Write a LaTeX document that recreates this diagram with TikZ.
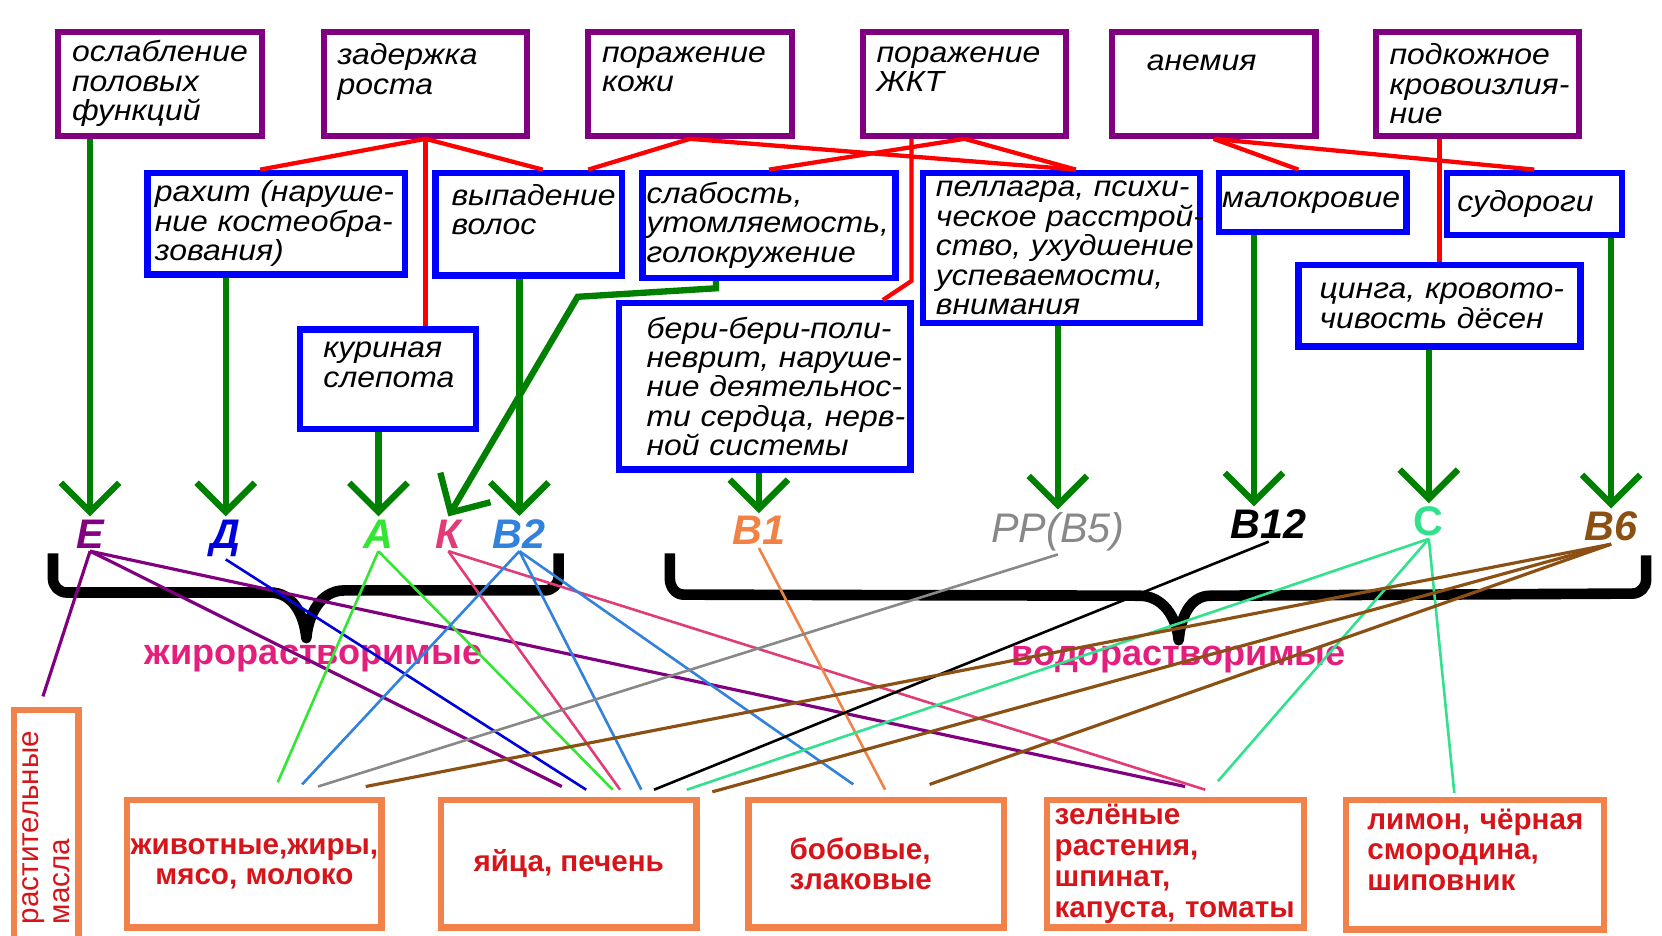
\documentclass[tikz,border=0pt]{standalone}
\usepackage{fontspec}
\setmainfont{Liberation Sans}
\newfontfamily\boxfont[FakeStretch=1.1]{Liberation Sans}
\usetikzlibrary{arrows.meta}

\definecolor{symcol}{RGB}{128,0,128}
\definecolor{diseasecol}{RGB}{0,0,255}
\definecolor{foodcol}{RGB}{242,130,75}
\definecolor{foodtext}{RGB}{215,20,25}
\definecolor{linkred}{RGB}{255,0,0}
\definecolor{arrowgreen}{RGB}{0,128,0}
\definecolor{groupcol}{RGB}{228,30,125}
\definecolor{colE}{RGB}{128,0,128}
\definecolor{colD}{RGB}{0,0,220}
\definecolor{colA}{RGB}{50,230,50}
\definecolor{colK}{RGB}{225,60,120}
\definecolor{colBtwo}{RGB}{50,130,220}
\definecolor{colBone}{RGB}{240,130,70}
\definecolor{colPP}{RGB}{136,136,136}
\definecolor{colBtwelve}{RGB}{0,0,0}
\definecolor{colC}{RGB}{50,225,140}
\definecolor{colBsix}{RGB}{139,80,20}

\tikzset{
  symptom/.style={draw=symcol, line width=3.4pt, inner sep=0pt, align=left,
    minimum width=3.84cm, minimum height=1.96cm, text width=3.32cm,
    font=\boxfont\itshape\fontsize{15.6}{15.8}\selectfont},
  disease/.style={draw=diseasecol, line width=3.4pt, inner sep=0pt, align=left,
    font=\boxfont\itshape\fontsize{15.6}{15.8}\selectfont},
  food/.style={draw=foodcol, line width=3.4pt, inner sep=0pt, text=foodtext,
    font=\bfseries\fontsize{15.9}{16.5}\selectfont},
  vit/.style={inner sep=1.5pt, anchor=base,
    font=\bfseries\itshape\fontsize{22.2}{24}\selectfont},
  group/.style={text=groupcol, font=\bfseries\fontsize{19.4}{21}\selectfont},
  redlink/.style={draw=linkred, line width=2.3pt},
  greenarrow/.style={draw=arrowgreen, line width=3.4pt,
    -{Straight Barb[length=0.55cm,width=1.1cm]}},
  bracket/.style={draw=black, line width=5.7pt, line join=round},
  source/.style={draw=#1, line width=1.4pt}
}

\begin{document}
\begin{tikzpicture}[x=0.02cm,y=-0.02cm]
    \useasboundingbox (0,0) rectangle (1568,883);

    \node[symptom] (b1) at (151,79) {ослабление\\половых\\функций};
    \node[symptom] (b2) at (401.5,79) {задержка\\роста\\~};
    \node[symptom] (b3) at (651,79) {поражение\\кожи\\~};
    \node[symptom] (b4) at (910,79) {поражение\\ЖКТ\\~};
    \node[symptom] (b5) at (1145,79) {\hspace*{0.4cm}\raisebox{-0.1cm}{анемия}\vphantom{б}\\~\\~};
    \node[symptom] (b6) at (1394,79) {подкожное\\\mbox{кровоизлия-}\\ние};

    \node[disease, minimum width=4.86cm, minimum height=1.92cm, text width=4.58cm] (c1) at (260.5,211) {\mbox{рахит (наруше-}\\\mbox{ние костеобра-}\\зования)};
    \node[disease, minimum width=3.52cm, minimum height=1.94cm, text width=2.92cm] (c2) at (499,211.5) {выпадение\\волос\\~};
    \node[disease, minimum width=4.78cm, minimum height=1.98cm, text width=4.62cm] (c3) at (725.5,212.5) {слабость,\\утомляемость,\\голокружение};
    \node[disease, minimum width=5.22cm, minimum height=2.84cm, text width=4.74cm] (c4) at (1001.5,234) {\mbox{пеллагра, психи-}\\\mbox{ческое расстрой-}\\\mbox{ство, ухудшение}\\успеваемости,\\внимания};
    \node[disease, minimum width=3.54cm, minimum height=1.12cm, text width=3.42cm] (c5) at (1238.5,191) {малокровие};
    \node[disease, minimum width=3.3cm, minimum height=1.18cm, text width=2.9cm] (c6) at (1447.5,192.5) {судороги};
    \node[disease, minimum width=3.32cm, minimum height=1.88cm, text width=2.44cm] (c7) at (366,358) {куриная\\слепота\\~};
    \node[disease, minimum width=5.5cm, minimum height=3.14cm, text width=4.46cm] (c8) at (721.5,364.5) {\mbox{бери-бери-поли-}\\\mbox{неврит, наруше-}\\\mbox{ние деятельнос-}\\\mbox{ти сердца, нерв-}\\\mbox{ной системы}};
    \node[disease, minimum width=5.32cm, minimum height=1.54cm, text width=4.52cm] (c9) at (1358,288.5) {\mbox{цинга, кровото-}\\\mbox{чивость дёсен}};

    \node[vit, text=colE] (e) at (85,517) {Е};
    \node[vit, text=colD] (d) at (213,517) {Д};
    \node[vit, text=colA] (a) at (357,517) {А};
    \node[vit, text=colK] (k) at (423,517) {К};
    \node[vit, text=colBtwo] (btwo) at (490,517) {В2};
    \node[vit, text=colBone] (bone) at (716,514) {В1};
    \node[vit, text=colPP, font=\itshape\fontsize{22.2}{24}\selectfont] (pp) at (998,512) {РР(В5)};
    \node[vit, text=colBtwelve] (btwelve) at (1197,508) {В12};
    \node[vit, text=colC, font=\bfseries\fontsize{22.2}{24}\selectfont] (c) at (1348,505) {С};
    \node[vit, text=colBsix] (bsix) at (1520,510) {В6};

    \node[food, rotate=90, align=left, minimum width=4.46cm, minimum height=1.22cm, text width=3.62cm, font=\fontsize{15.9}{16.5}\selectfont] (d1) at (43.5,781.5) {растительные\\масла};
    \node[food, align=center, minimum width=4.8cm, minimum height=2.4cm] (d2) at (240,815) {животные,жиры,\\\mbox{мясо, молоко}};
    \node[food, align=center, minimum width=4.82cm, minimum height=2.4cm] (d3) at (536.5,815) {\mbox{яйца, печень}};
    \node[food, align=left, minimum width=4.82cm, minimum height=2.4cm, text width=3.26cm] (d4) at (826.5,815) {бобовые,\\злаковые};
    \node[food, align=left, minimum width=4.84cm, minimum height=2.4cm, text width=4.56cm] (d5) at (1109,815) {зелёные\\растения,\\шпинат,\\\mbox{капуста, томаты}};
    \node[food, align=left, minimum width=4.86cm, minimum height=2.44cm, text width=4.06cm] (d6) at (1391.5,816) {\mbox{лимон, чёрная}\\смородина,\\шиповник\\~};

    \node[group] (fat) at (296,621) {жирорастворимые};
    \node[group] (water) at (1112,622) {водорастворимые};
    \coordinate (kbend) at (545,280);
    \coordinate (btip) at ([xshift=-0.28cm]btwelve.north);

    \draw[bracket] (50,522) -- (50,546) to[out=-90,in=180] (63,559) -- (255,559) to[out=0,in=95] (289,602) to[out=85,in=180] (325,557) -- (514,557) to[out=0,in=-90] (527,544) -- (527,522);
    \draw[bracket] (632,522) -- (632,546) to[out=-90,in=180] (645,561) -- (1075,562) to[out=0,in=95] (1112,604) to[out=85,in=180] (1142,562) -- (1540,560) to[out=0,in=-90] (1553,547) -- (1553,524);

    \path[redlink] (b2.south) edge ([xshift=-0.3cm]c1.north);
    \path[redlink] (b2.south) edge ([xshift=0.26cm]c2.north);
    \path[redlink] (b2.south) edge (b2.south |- c7.north);
    \path[redlink] (b3.south) edge ([xshift=-0.7cm]c2.north east);
    \path[redlink] (b3.south) edge ([xshift=0.27cm]c4.north);
    \path[redlink] (b4.south) edge (c3.north);
    \path[redlink] (b4.south) edge ([xshift=0.27cm]c4.north);
    \draw[redlink] ([xshift=-1cm]b4.south) -- ([xshift=-1cm]b4.south |- c3.south) -- ([xshift=-0.58cm]c8.north east);
    \path[redlink] (b5.south) edge ([xshift=-0.27cm]c5.north);
    \path[redlink] (b5.south) edge (c6.north);
    \path[redlink] (c9.north |- b6.south) edge (c9.north);

    \draw[greenarrow] (e |- b1.south) -- (e.north);
    \draw[greenarrow] (d |- c1.south) -- (d.north);
    \draw[greenarrow] (a |- c7.south) -- (a.north);
    \draw[greenarrow] (btwo |- c2.south) -- (btwo.north);
    \draw[greenarrow] (bone |- c8.south) -- (bone.north);
    \draw[greenarrow] (pp |- c4.south) -- (pp.north);
    \draw[greenarrow] (btip |- c5.south) -- (btip);
    \draw[greenarrow] (c |- c9.south) -- (c.north);
    \draw[greenarrow] (bsix |- c6.south) -- (bsix.north);
    \draw[greenarrow] ([xshift=-1cm]c3.south) -- ++(0,7) -- (kbend) -- (k.north);

    \path[source=colE, line width=1.7pt] (e.south) edge ([shift={(-3,-10)}]d1.east)
        (e.south) edge ([shift={(117,-10)}]d3.north west)
        (e.south) edge ([shift={(133,-10)}]d5.north west);
    \path[source=colD] (d.south) edge ([shift={(140,-7)}]d3.north west);
    \path[source=colA] (a.south) edge ([shift={(145,-14)}]d2.north west)
        (a.south) edge ([shift={(165,-7)}]d3.north west);
    \path[source=colK] (k.south) edge ([shift={(172,-7)}]d3.north west)
        (k.south) edge ([shift={(152,-7)}]d5.north west);
    \path[source=colBtwo] (btwo.south) edge ([shift={(168,-12)}]d2.north west)
        (btwo.south) edge ([shift={(192,-7)}]d3.north west)
        (btwo.south) edge ([shift={(102,-12)}]d4.north west);
    \path[source=colBone] (bone.south) edge ([shift={(132,-7)}]d4.north west);
    \path[source=colPP] (pp.south) edge ([shift={(183,-10)}]d2.north west);
    \path[source=colBtwelve] (btwelve.south) edge ([shift={(204,-7)}]d3.north west);
    \path[source=colC] (c.south) edge ([shift={(235,-7)}]d3.north west)
        (c.south) edge ([shift={(164,-15)}]d5.north west)
        (c.south) edge ([shift={(105,-4)}]d6.north west);
    \path[source=colBsix, line width=1.7pt] (bsix.south) edge ([shift={(228,-10)}]d2.north west)
        (bsix.south) edge ([shift={(259,-5)}]d3.north west)
        (bsix.south) edge ([shift={(174,-12)}]d4.north west);
\end{tikzpicture}
\end{document}
